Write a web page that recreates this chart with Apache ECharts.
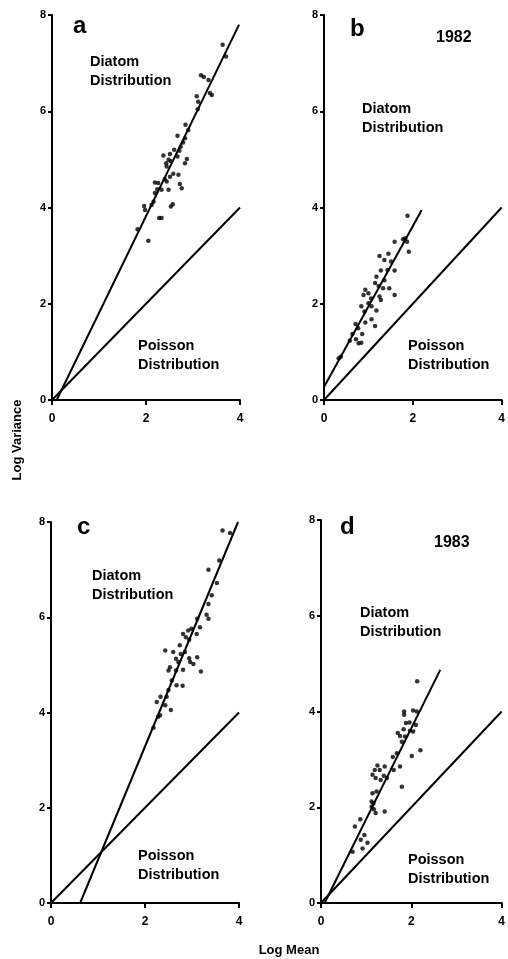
<!DOCTYPE html>
<html>
<head>
<meta charset="utf-8">
<script src="https://cdn.jsdelivr.net/npm/echarts@6/dist/echarts.min.js"></script>
<style>
html,body{margin:0;padding:0;background:#fff;}
#chart{width:508px;height:959px;}
</style>
</head>
<body>
<div id="chart"></div>
<script>
// ---- axis ticks ----
const xTickValues = [0, 2, 4];
const yTickValues = [0, 2, 4, 6, 8];

// ---- panel a ----
const aLogMean = [3.63,3.70,3.17,3.23,3.33,3.36,3.40,3.08,3.11,3.10,2.84,2.90,2.67,2.83,2.79,2.74,2.60,2.71,2.37,2.51,2.67,2.48,2.43,2.53,2.87,2.83,2.44,2.58,2.69,2.51,2.40,2.44,2.19,2.26,2.72,2.24,2.33,2.48,2.76,2.19,2.16,2.12,1.96,1.98,2.57,2.53,2.28,2.33,1.82,2.05];
const aLogVar  = [7.38,7.14,6.75,6.71,6.65,6.38,6.34,6.31,6.20,6.04,5.72,5.61,5.49,5.44,5.35,5.26,5.20,5.18,5.08,5.11,5.06,4.99,4.92,4.96,5.01,4.92,4.85,4.70,4.68,4.64,4.59,4.54,4.52,4.51,4.49,4.38,4.37,4.37,4.40,4.30,4.12,4.05,4.03,3.95,4.07,4.02,3.78,3.78,3.55,3.31];
const aFitMean = [0.10, 3.98];
const aFitVar  = [0.00, 7.80];

// ---- panel b (1982) ----
const bLogMean = [1.88,1.78,1.83,1.87,1.59,1.91,1.25,1.45,1.36,1.51,1.28,1.43,1.59,1.18,1.36,1.15,1.23,1.47,1.33,1.59,0.93,1.00,0.89,1.06,1.25,1.28,1.00,1.07,0.84,0.91,1.18,1.07,0.93,1.15,0.71,0.77,0.86,0.64,0.72,0.58,0.78,0.84,0.33,0.38];
const bLogVar  = [3.83,3.34,3.36,3.29,3.29,3.08,2.99,3.04,2.91,2.88,2.69,2.70,2.69,2.56,2.49,2.43,2.37,2.32,2.32,2.18,2.29,2.22,2.18,2.11,2.15,2.08,2.01,1.95,1.95,1.84,1.86,1.68,1.61,1.54,1.58,1.49,1.37,1.37,1.26,1.23,1.18,1.19,0.87,0.90];
const bFitMean = [0.00, 2.20];
const bFitVar  = [0.27, 3.95];

// ---- panel c ----
const cLogMean = [3.65,3.81,3.58,3.35,3.53,3.42,3.35,3.31,3.35,3.11,3.17,2.99,2.92,2.81,2.87,3.10,2.94,2.74,2.43,2.60,2.76,2.85,2.66,2.94,3.11,2.71,2.53,2.96,3.03,2.50,2.81,3.19,2.66,2.57,2.67,2.80,2.50,2.33,2.25,2.46,2.43,2.55,2.32,2.28,2.18];
const cLogVar  = [7.82,7.77,7.19,7.00,6.72,6.46,6.28,6.05,5.97,5.97,5.79,5.76,5.72,5.65,5.58,5.65,5.53,5.41,5.30,5.27,5.23,5.27,5.13,5.14,5.16,5.06,4.95,5.06,5.02,4.88,4.90,4.86,4.88,4.67,4.57,4.56,4.47,4.33,4.22,4.33,4.15,4.05,3.94,3.91,3.68];
const cFitMean = [0.62, 3.98];
const cFitVar  = [0.00, 8.00];

// ---- panel d (1983) ----
const dLogMean = [2.13,1.84,2.04,2.12,1.84,1.88,1.96,2.10,1.83,1.97,2.04,1.70,1.75,1.86,1.79,2.20,2.01,1.68,1.59,1.75,1.61,1.41,1.25,1.19,1.30,1.14,1.39,1.46,1.21,1.32,1.79,1.14,1.23,1.12,1.16,1.12,1.17,1.21,1.41,0.87,0.75,0.96,0.88,1.03,0.92,0.70];
const dLogVar  = [4.63,4.00,4.02,4.00,3.93,3.76,3.77,3.72,3.63,3.60,3.58,3.55,3.49,3.48,3.37,3.19,3.07,3.13,3.05,2.85,2.78,2.85,2.87,2.78,2.78,2.68,2.66,2.61,2.61,2.57,2.43,2.29,2.33,2.12,2.08,2.01,1.96,1.88,1.91,1.75,1.60,1.42,1.32,1.26,1.14,1.07];
const dFitMean = [0.08, 2.64];
const dFitVar  = [0.00, 4.87];

// Poisson expectation (variance = mean)
const poissonMean = [0, 4];
const poissonVar  = [0, 4];

const zip = (xs, ys) => xs.map((x, i) => [x, ys[i]]);

const FONT = 'Liberation Sans, Arial, Helvetica, sans-serif';
const grids = [
  {left: 52,  top: 15,  width: 188, height: 385},
  {left: 324, top: 15,  width: 184, height: 385},
  {left: 51,  top: 522, width: 188, height: 381},
  {left: 321, top: 520, width: 184, height: 383}
];

function xAxisFor(i) {
  return {
    type: 'value', gridIndex: i, min: 0, max: 4, interval: 2,
    axisLine: {show: true, onZero: false, lineStyle: {color: '#000', width: 2}},
    axisTick: {show: true, length: 5, lineStyle: {color: '#000', width: 2}},
    axisLabel: {color: '#000', fontSize: 12, fontWeight: 'bold', fontFamily: FONT, margin: 13,
                customValues: xTickValues},
    splitLine: {show: false}
  };
}
function yAxisFor(i) {
  return {
    type: 'value', gridIndex: i, min: 0, max: 8, interval: 2,
    axisLine: {show: true, onZero: false, lineStyle: {color: '#000', width: 2}},
    axisTick: {show: true, length: 4, lineStyle: {color: '#000', width: 2}},
    axisLabel: {color: '#000', fontSize: 11, fontWeight: 'bold', fontFamily: FONT, margin: 6,
                customValues: yTickValues},
    splitLine: {show: false}
  };
}

const panels = [
  {m: aLogMean, v: aLogVar, fm: aFitMean, fv: aFitVar},
  {m: bLogMean, v: bLogVar, fm: bFitMean, fv: bFitVar},
  {m: cLogMean, v: cLogVar, fm: cFitMean, fv: cFitVar},
  {m: dLogMean, v: dLogVar, fm: dFitMean, fv: dFitVar}
];

const series = [];
panels.forEach((p, i) => {
  series.push({
    type: 'scatter', xAxisIndex: i, yAxisIndex: i, data: zip(p.m, p.v),
    symbol: 'circle', symbolSize: 4.5, itemStyle: {color: '#000'}, silent: true
  });
  series.push({
    type: 'line', xAxisIndex: i, yAxisIndex: i, data: zip(p.fm, p.fv),
    showSymbol: false, lineStyle: {color: '#000', width: 2}, silent: true
  });
  series.push({
    type: 'line', xAxisIndex: i, yAxisIndex: i, data: zip(poissonMean, poissonVar),
    showSymbol: false, lineStyle: {color: '#000', width: 2}, silent: true
  });
});

function txt(x, y, s, size, lh) {
  return {type: 'text', left: x, top: y, silent: true,
          style: {text: s, fill: '#000', font: 'bold ' + size + 'px ' + FONT, lineHeight: lh || Math.round(size * 1.3)}};
}

const graphics = [
  txt(73, 11, 'a', 24), txt(350, 14, 'b', 24), txt(77, 512, 'c', 24), txt(340, 512, 'd', 24),
  txt(436, 27, '1982', 16), txt(434, 532, '1983', 16),
  txt(90, 52, 'Diatom\nDistribution', 14.5, 19), txt(138, 336, 'Poisson\nDistribution', 14.5, 19),
  txt(362, 99, 'Diatom\nDistribution', 14.5, 19), txt(408, 336, 'Poisson\nDistribution', 14.5, 19),
  txt(92, 566, 'Diatom\nDistribution', 14.5, 19), txt(138, 846, 'Poisson\nDistribution', 14.5, 19),
  txt(360, 603, 'Diatom\nDistribution', 14.5, 19), txt(408, 850, 'Poisson\nDistribution', 14.5, 19),
  {type: 'text', x: 17, y: 440, rotation: Math.PI / 2, silent: true,
   style: {text: 'Log Variance', fill: '#000', font: 'bold 13px ' + FONT, align: 'center', verticalAlign: 'middle'}},
  {type: 'text', x: 289, y: 950, silent: true,
   style: {text: 'Log Mean', fill: '#000', font: 'bold 13px ' + FONT, align: 'center', verticalAlign: 'middle'}}
];

const chart = echarts.init(document.getElementById('chart'), null, {renderer: 'canvas'});
chart.setOption({
  animation: false,
  backgroundColor: '#fff',
  grid: grids,
  xAxis: [0, 1, 2, 3].map(xAxisFor),
  yAxis: [0, 1, 2, 3].map(yAxisFor),
  series: series,
  graphic: graphics
});
</script>
</body>
</html>
